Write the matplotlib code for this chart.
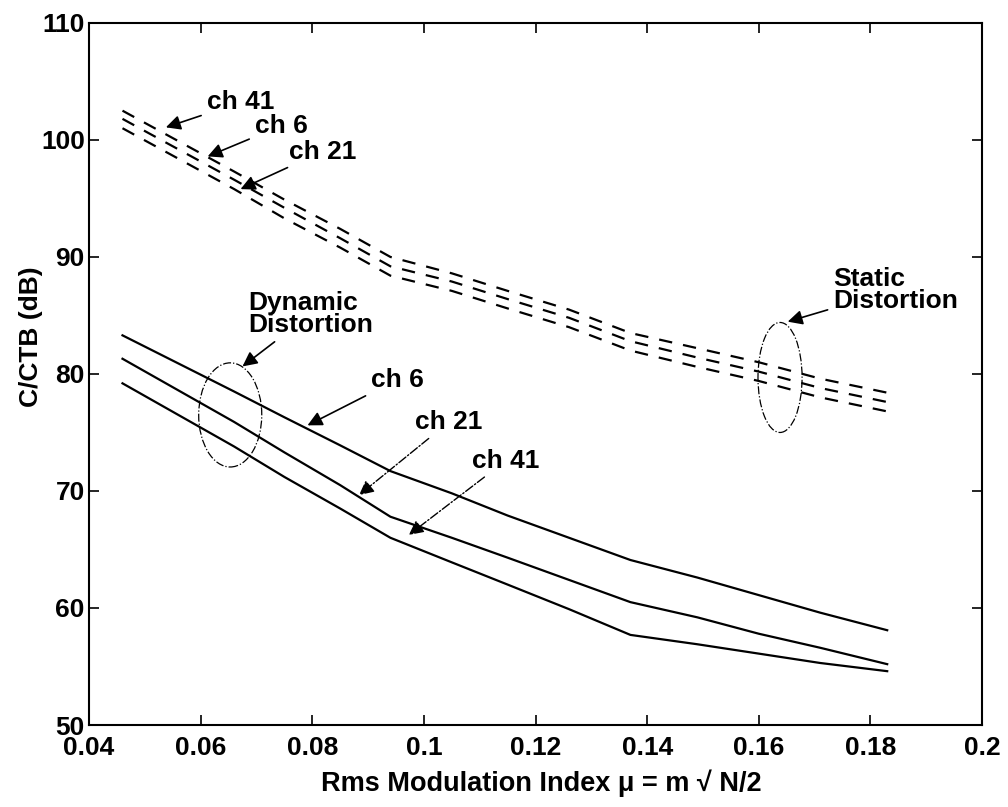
#!/usr/bin/env python
"""ctb_vs_mu.py
carrier to composite triple beat ratio vs rms modulation index,
static and dynamic distortion for channels 6, 21 and 41
"""

import matplotlib
matplotlib.use('Agg')
import matplotlib.pyplot as plt
from matplotlib.patches import Ellipse

plt.rcParams['font.family'] = ['Liberation Sans', 'DejaVu Sans']
plt.rcParams['font.weight'] = 'bold'

###########
## DATA  ##
###########
mu = [0.046, 0.056, 0.066, 0.075, 0.085, 0.094, 0.105, 0.115, 0.126, 0.137,
      0.149, 0.160, 0.171, 0.183]

# dynamic distortion (solid)
dyn_ch6 = [83.3, 80.9, 78.5, 76.3, 73.9, 71.7, 69.8, 67.9, 66.0, 64.1,
           62.6, 61.1, 59.6, 58.1]
dyn_ch21 = [81.3, 78.6, 75.9, 73.3, 70.5, 67.8, 66.0, 64.3, 62.4, 60.5,
            59.2, 57.8, 56.6, 55.2]
dyn_ch41 = [79.2, 76.5, 73.8, 71.2, 68.5, 66.0, 63.9, 62.0, 59.9, 57.7,
            56.9, 56.1, 55.3, 54.6]

# static distortion (dashed)
sta_ch41 = [102.5, 99.9, 97.3, 94.9, 92.4, 90.0, 88.6, 87.1, 85.5, 83.5,
            82.2, 81.0, 79.6, 78.4]
sta_ch6 = [101.8, 99.2, 96.6, 94.2, 91.6, 89.2, 87.9, 86.4, 84.8, 82.8,
           81.4, 80.2, 78.8, 77.6]
sta_ch21 = [101.0, 98.4, 95.8, 93.3, 90.8, 88.4, 87.1, 85.6, 84.0, 82.0,
            80.6, 79.4, 78.0, 76.8]

xticks = [0.04, 0.06, 0.08, 0.1, 0.12, 0.14, 0.16, 0.18, 0.2]
xticklabels = ['0.04', '0.06', '0.08', '0.1', '0.12', '0.14', '0.16', '0.18', '0.2']
yticks = [50, 60, 70, 80, 90, 100, 110]

###########
## PLOT  ##
###########
fig = plt.figure(figsize=(10.08, 8.07), dpi=100)
ax = fig.add_axes([0.0883, 0.1016, 0.886, 0.870])

for yy in (dyn_ch6, dyn_ch21, dyn_ch41):
    ax.plot(mu, yy, 'k-', lw=1.6)
for yy in (sta_ch41, sta_ch6, sta_ch21):
    ax.plot(mu, yy, 'k-', lw=1.6, dashes=(6, 5))

ax.set_xlim(0.04, 0.2)
ax.set_ylim(50, 110)
ax.set_xticks(xticks)
ax.set_xticklabels(xticklabels)
ax.set_yticks(yticks)
ax.tick_params(direction='in', length=7, width=1.2, top=True, right=True,
               labelsize=19)
ax.tick_params(axis='x', pad=8)
ax.tick_params(axis='y', pad=3)
for sp in ax.spines.values():
    sp.set_linewidth(1.5)

ax.set_xlabel('Rms Modulation Index \u03bc = m \u221a N/2', fontsize=19.5,
              fontweight='bold', va='center')
ax.xaxis.set_label_coords(0.506, -0.083)
ax.set_ylabel('C/CTB (dB)', fontsize=19, fontweight='bold')
ax.yaxis.set_label_coords(-0.052, 0.553)

# labels on the curves
solid = dict(arrowstyle='-|>', color='k', lw=1.2, mutation_scale=22)
dashdot = dict(arrowstyle='-|>', color='k', lw=1.0, linestyle='-.',
               mutation_scale=22)
txt = dict(fontsize=19, fontweight='bold', ha='center', va='center')

ax.annotate('ch 41', xy=(0.0533, 101.0), xytext=(0.0671, 103.2),
            arrowprops=solid, **txt)
ax.annotate('ch 6', xy=(0.0608, 98.5), xytext=(0.0744, 101.2),
            arrowprops=solid, **txt)
ax.annotate('ch 21', xy=(0.0667, 95.7), xytext=(0.0818, 99.0),
            arrowprops=solid, **txt)

ax.annotate('ch 6', xy=(0.0787, 75.5), xytext=(0.0952, 79.5),
            arrowprops=solid, **txt)
ax.annotate('ch 21', xy=(0.088, 69.5), xytext=(0.1045, 75.9),
            arrowprops=dashdot, **txt)
ax.annotate('ch 41', xy=(0.0969, 66.1), xytext=(0.1147, 72.6),
            arrowprops=dashdot, **txt)

ax.annotate('Dynamic\nDistortion', xy=(0.0671, 80.5), xytext=(0.0685, 85.1),
            arrowprops=solid, fontsize=19, fontweight='bold', ha='left',
            va='center', linespacing=0.9)
ax.annotate('Static\nDistortion', xy=(0.1647, 84.4), xytext=(0.1733, 87.2),
            arrowprops=solid, fontsize=19, fontweight='bold', ha='left',
            va='center', linespacing=0.9)

ax.add_patch(Ellipse((0.0653, 76.5), 0.0113, 8.9, fill=False, ec='k',
                     lw=0.9, ls='-.'))
ax.add_patch(Ellipse((0.1638, 79.7), 0.0079, 9.4, fill=False, ec='k',
                     lw=0.9, ls='-.'))

fig.savefig('out.png', dpi=100)
